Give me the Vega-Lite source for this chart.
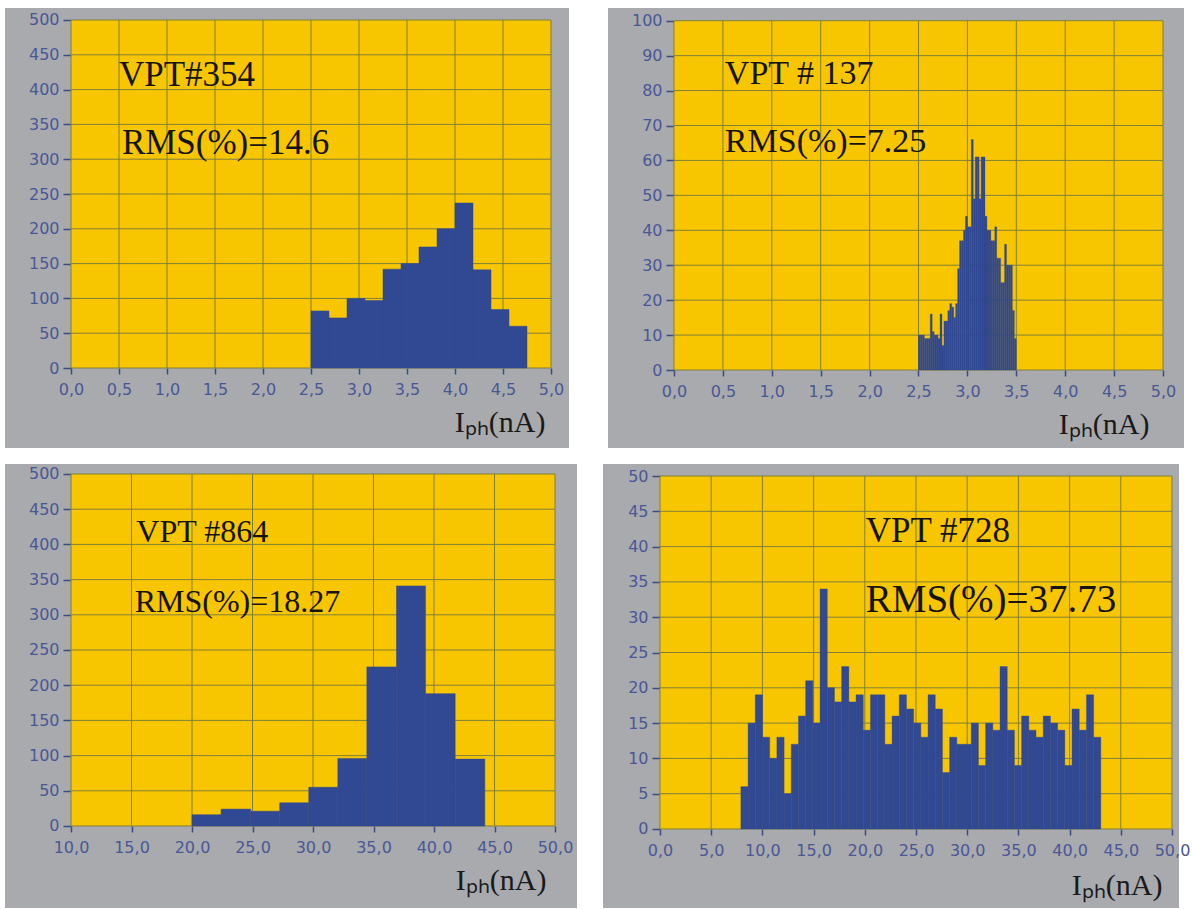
{
  "$schema": "https://vega.github.io/schema/vega-lite/v6.json",
  "background": "white",
  "padding": {"left": 5, "top": 8, "right": 0, "bottom": 0},
  "spacing": 16,
  "config": {
    "view": {"stroke": null},
    "axis": {
      "zindex": 1,
      "domain": false, "grid": false, "labelFlush": false, "labelOverlap": false,
      "labelFont": "DejaVu Sans", "labelFontSize": 16, "labelColor": "#4a5797",
      "tickColor": "#3d4a85", "tickWidth": 1.5,
      "titleFont": "Liberation Serif", "titleFontSize": 30, "titleFontWeight": "normal", "titleColor": "#1a1a1a"
    }
  },
  "vconcat": [
    {
      "spacing": 39,
      "hconcat": [
        {
          "width": 564, "height": 440,
          "view": {"fill": "#a8aaad", "stroke": null},
          "layer": [
            {
              "data": {"values": [{}]},
              "mark": {"type": "rect", "color": "#f8c600"},
              "encoding": {
                "x": {"datum": 0, "type": "quantitative", "scale": {"domain": [-0.6875, 5.1875], "nice": false, "zero": false},
                  "axis": {"values": [0, 0.5, 1, 1.5, 2, 2.5, 3, 3.5, 4, 4.5, 5], "offset": -80, "tickSize": 6, "labelPadding": 7,
                    "labelExpr": "replace(format(datum.value, '.1f'), '.', ',')",
                    "title": "Iₚₕ(nA)", "titleX": 540, "titleY": 63, "titleAlign": "right", "titleBaseline": "alphabetic", "titleAnchor": null}},
                "x2": {"datum": 5},
                "y": {"datum": 0, "type": "quantitative", "scale": {"domain": [-114.94, 517.24], "nice": false, "zero": false},
                  "axis": {"values": [0, 50, 100, 150, 200, 250, 300, 350, 400, 450, 500], "offset": -66, "tickSize": 8, "labelPadding": 4, "title": null}},
                "y2": {"datum": 500}
              }
            },
            {
              "data": {"values": [{"g": 0}, {"g": 0.5}, {"g": 1}, {"g": 1.5}, {"g": 2}, {"g": 2.5}, {"g": 3}, {"g": 3.5}, {"g": 4}, {"g": 4.5}, {"g": 5}]},
              "mark": {"type": "rule", "color": "#7f8038", "strokeWidth": 1},
              "encoding": {
                "x": {"field": "g", "type": "quantitative", "scale": {"domain": [-0.6875, 5.1875], "nice": false, "zero": false}},
                "y": {"datum": 0, "type": "quantitative", "scale": {"domain": [-114.94, 517.24], "nice": false, "zero": false}},
                "y2": {"datum": 500}
              }
            },
            {
              "data": {"values": [{"g": 0}, {"g": 50}, {"g": 100}, {"g": 150}, {"g": 200}, {"g": 250}, {"g": 300}, {"g": 350}, {"g": 400}, {"g": 450}, {"g": 500}]},
              "mark": {"type": "rule", "color": "#7f8038", "strokeWidth": 1},
              "encoding": {
                "y": {"field": "g", "type": "quantitative", "scale": {"domain": [-114.94, 517.24], "nice": false, "zero": false}},
                "x": {"datum": 0, "type": "quantitative", "scale": {"domain": [-0.6875, 5.1875], "nice": false, "zero": false}},
                "x2": {"datum": 5}
              }
            },
            {
              "data": {"values": [
                {"a": 2.5, "b": 2.6875, "n": 82}, {"a": 2.6875, "b": 2.875, "n": 72}, {"a": 2.875, "b": 3.0625, "n": 100},
                {"a": 3.0625, "b": 3.25, "n": 97}, {"a": 3.25, "b": 3.4375, "n": 142}, {"a": 3.4375, "b": 3.625, "n": 150},
                {"a": 3.625, "b": 3.8125, "n": 174}, {"a": 3.8125, "b": 4.0, "n": 200}, {"a": 4.0, "b": 4.1875, "n": 237},
                {"a": 4.1875, "b": 4.375, "n": 141}, {"a": 4.375, "b": 4.5625, "n": 84}, {"a": 4.5625, "b": 4.75, "n": 60}
              ]},
              "mark": {"type": "rect", "color": "#314892", "stroke": "#314892", "strokeWidth": 0.5},
              "encoding": {
                "x": {"field": "a", "type": "quantitative", "scale": {"domain": [-0.6875, 5.1875], "nice": false, "zero": false}},
                "x2": {"field": "b"},
                "y": {"field": "n", "type": "quantitative", "scale": {"domain": [-114.94, 517.24], "nice": false, "zero": false}},
                "y2": {"datum": 0}
              }
            },
            {
              "data": {"values": [{"t": "VPT#354", "x": 0.5, "y": 405}, {"t": "RMS(%)=14.6", "x": 0.53, "y": 307}]},
              "mark": {"type": "text", "align": "left", "baseline": "alphabetic", "font": "Liberation Serif", "fontSize": 35, "color": "#141414"},
              "encoding": {
                "x": {"field": "x", "type": "quantitative", "scale": {"domain": [-0.6875, 5.1875], "nice": false, "zero": false}},
                "y": {"field": "y", "type": "quantitative", "scale": {"domain": [-114.94, 517.24], "nice": false, "zero": false}},
                "text": {"field": "t"}
              }
            }
          ]
        },
        {
          "width": 576, "height": 440,
          "view": {"fill": "#a8aaad", "stroke": null},
          "layer": [
            {
              "data": {"values": [{}]},
              "mark": {"type": "rect", "color": "#f8c600"},
              "encoding": {
                "x": {"datum": 0, "type": "quantitative", "scale": {"domain": [-0.6748, 5.2147], "nice": false, "zero": false},
                  "axis": {"values": [0, 0.5, 1, 1.5, 2, 2.5, 3, 3.5, 4, 4.5, 5], "offset": -78, "tickSize": 6, "labelPadding": 7,
                    "labelExpr": "replace(format(datum.value, '.1f'), '.', ',')",
                    "title": "Iₚₕ(nA)", "titleX": 541, "titleY": 63, "titleAlign": "right", "titleBaseline": "alphabetic", "titleAnchor": null}},
                "x2": {"datum": 5},
                "y": {"datum": 0, "type": "quantitative", "scale": {"domain": [-22.33, 103.64], "nice": false, "zero": false},
                  "axis": {"values": [0, 10, 20, 30, 40, 50, 60, 70, 80, 90, 100], "offset": -66, "tickSize": 8, "labelPadding": 4, "title": null}},
                "y2": {"datum": 100}
              }
            },
            {
              "data": {"values": [{"g": 0}, {"g": 0.5}, {"g": 1}, {"g": 1.5}, {"g": 2}, {"g": 2.5}, {"g": 3}, {"g": 3.5}, {"g": 4}, {"g": 4.5}, {"g": 5}]},
              "mark": {"type": "rule", "color": "#7f8038", "strokeWidth": 1},
              "encoding": {
                "x": {"field": "g", "type": "quantitative", "scale": {"domain": [-0.6748, 5.2147], "nice": false, "zero": false}},
                "y": {"datum": 0, "type": "quantitative", "scale": {"domain": [-22.33, 103.64], "nice": false, "zero": false}},
                "y2": {"datum": 100}
              }
            },
            {
              "data": {"values": [{"g": 0}, {"g": 10}, {"g": 20}, {"g": 30}, {"g": 40}, {"g": 50}, {"g": 60}, {"g": 70}, {"g": 80}, {"g": 90}, {"g": 100}]},
              "mark": {"type": "rule", "color": "#7f8038", "strokeWidth": 1},
              "encoding": {
                "y": {"field": "g", "type": "quantitative", "scale": {"domain": [-22.33, 103.64], "nice": false, "zero": false}},
                "x": {"datum": 0, "type": "quantitative", "scale": {"domain": [-0.6748, 5.2147], "nice": false, "zero": false}},
                "x2": {"datum": 5}
              }
            },
            {
              "data": {"values": [
                {"a": 2.50, "b": 2.52, "n": 10}, {"a": 2.52, "b": 2.54, "n": 10}, {"a": 2.54, "b": 2.56, "n": 10}, {"a": 2.56, "b": 2.58, "n": 9},
                {"a": 2.58, "b": 2.60, "n": 9}, {"a": 2.60, "b": 2.62, "n": 9}, {"a": 2.62, "b": 2.64, "n": 16}, {"a": 2.64, "b": 2.66, "n": 11},
                {"a": 2.66, "b": 2.68, "n": 10}, {"a": 2.68, "b": 2.70, "n": 10}, {"a": 2.70, "b": 2.72, "n": 9}, {"a": 2.72, "b": 2.74, "n": 16},
                {"a": 2.74, "b": 2.76, "n": 7}, {"a": 2.76, "b": 2.78, "n": 14}, {"a": 2.78, "b": 2.80, "n": 14}, {"a": 2.80, "b": 2.82, "n": 17},
                {"a": 2.82, "b": 2.84, "n": 19}, {"a": 2.84, "b": 2.86, "n": 18}, {"a": 2.86, "b": 2.88, "n": 15}, {"a": 2.88, "b": 2.90, "n": 19},
                {"a": 2.90, "b": 2.92, "n": 29}, {"a": 2.92, "b": 2.94, "n": 37}, {"a": 2.94, "b": 2.96, "n": 37}, {"a": 2.96, "b": 2.98, "n": 40},
                {"a": 2.98, "b": 3.00, "n": 44}, {"a": 3.00, "b": 3.02, "n": 41}, {"a": 3.02, "b": 3.04, "n": 41}, {"a": 3.04, "b": 3.06, "n": 66},
                {"a": 3.06, "b": 3.08, "n": 49}, {"a": 3.08, "b": 3.10, "n": 61}, {"a": 3.10, "b": 3.12, "n": 61}, {"a": 3.12, "b": 3.14, "n": 49},
                {"a": 3.14, "b": 3.16, "n": 61}, {"a": 3.16, "b": 3.18, "n": 61}, {"a": 3.18, "b": 3.20, "n": 44}, {"a": 3.20, "b": 3.22, "n": 40},
                {"a": 3.22, "b": 3.24, "n": 40}, {"a": 3.24, "b": 3.26, "n": 37}, {"a": 3.26, "b": 3.28, "n": 37}, {"a": 3.28, "b": 3.30, "n": 41},
                {"a": 3.30, "b": 3.32, "n": 32}, {"a": 3.32, "b": 3.34, "n": 32}, {"a": 3.34, "b": 3.36, "n": 25}, {"a": 3.36, "b": 3.38, "n": 25},
                {"a": 3.38, "b": 3.40, "n": 36}, {"a": 3.40, "b": 3.42, "n": 30}, {"a": 3.42, "b": 3.44, "n": 30}, {"a": 3.44, "b": 3.46, "n": 30},
                {"a": 3.46, "b": 3.48, "n": 17}, {"a": 3.48, "b": 3.50, "n": 9}
              ]},
              "mark": {"type": "rect", "color": "#314892", "stroke": "#314892", "strokeWidth": 0.3},
              "encoding": {
                "x": {"field": "a", "type": "quantitative", "scale": {"domain": [-0.6748, 5.2147], "nice": false, "zero": false}},
                "x2": {"field": "b"},
                "y": {"field": "n", "type": "quantitative", "scale": {"domain": [-22.33, 103.64], "nice": false, "zero": false}},
                "y2": {"datum": 0}
              }
            },
            {
              "data": {"values": [{"t": "VPT # 137", "x": 0.52, "y": 81.9}, {"t": "RMS(%)=7.25", "x": 0.52, "y": 62.5}]},
              "mark": {"type": "text", "align": "left", "baseline": "alphabetic", "font": "Liberation Serif", "fontSize": 34, "color": "#141414"},
              "encoding": {
                "x": {"field": "x", "type": "quantitative", "scale": {"domain": [-0.6748, 5.2147], "nice": false, "zero": false}},
                "y": {"field": "y", "type": "quantitative", "scale": {"domain": [-22.33, 103.64], "nice": false, "zero": false}},
                "text": {"field": "t"}
              }
            }
          ]
        }
      ]
    },
    {
      "spacing": 26,
      "hconcat": [
        {
          "width": 572, "height": 444,
          "view": {"fill": "#a8aaad", "stroke": null},
          "layer": [
            {
              "data": {"values": [{}]},
              "mark": {"type": "rect", "color": "#f8c600"},
              "encoding": {
                "x": {"datum": 10, "type": "quantitative", "scale": {"domain": [4.545, 51.818], "nice": false, "zero": false},
                  "axis": {"values": [10, 15, 20, 25, 30, 35, 40, 45, 50], "offset": -82, "tickSize": 6, "labelPadding": 7,
                    "labelExpr": "replace(format(datum.value, '.1f'), '.', ',')",
                    "title": "Iₚₕ(nA)", "titleX": 541, "titleY": 63, "titleAlign": "right", "titleBaseline": "alphabetic", "titleAnchor": null}},
                "x2": {"datum": 50},
                "y": {"datum": 0, "type": "quantitative", "scale": {"domain": [-116.48, 514.2], "nice": false, "zero": false},
                  "axis": {"values": [0, 50, 100, 150, 200, 250, 300, 350, 400, 450, 500], "offset": -66, "tickSize": 8, "labelPadding": 4, "title": null}},
                "y2": {"datum": 500}
              }
            },
            {
              "data": {"values": [{"g": 10}, {"g": 15}, {"g": 20}, {"g": 25}, {"g": 30}, {"g": 35}, {"g": 40}, {"g": 45}, {"g": 50}]},
              "mark": {"type": "rule", "color": "#7f8038", "strokeWidth": 1},
              "encoding": {
                "x": {"field": "g", "type": "quantitative", "scale": {"domain": [4.545, 51.818], "nice": false, "zero": false}},
                "y": {"datum": 0, "type": "quantitative", "scale": {"domain": [-116.48, 514.2], "nice": false, "zero": false}},
                "y2": {"datum": 500}
              }
            },
            {
              "data": {"values": [{"g": 0}, {"g": 50}, {"g": 100}, {"g": 150}, {"g": 200}, {"g": 250}, {"g": 300}, {"g": 350}, {"g": 400}, {"g": 450}, {"g": 500}]},
              "mark": {"type": "rule", "color": "#7f8038", "strokeWidth": 1},
              "encoding": {
                "y": {"field": "g", "type": "quantitative", "scale": {"domain": [-116.48, 514.2], "nice": false, "zero": false}},
                "x": {"datum": 10, "type": "quantitative", "scale": {"domain": [4.545, 51.818], "nice": false, "zero": false}},
                "x2": {"datum": 50}
              }
            },
            {
              "data": {"values": [
                {"a": 20.0, "b": 22.4, "n": 16}, {"a": 22.4, "b": 24.85, "n": 24}, {"a": 24.85, "b": 27.25, "n": 21},
                {"a": 27.25, "b": 29.65, "n": 33}, {"a": 29.65, "b": 32.05, "n": 55}, {"a": 32.05, "b": 34.45, "n": 96},
                {"a": 34.45, "b": 36.9, "n": 226}, {"a": 36.9, "b": 39.3, "n": 341}, {"a": 39.3, "b": 41.75, "n": 188},
                {"a": 41.75, "b": 44.2, "n": 95}
              ]},
              "mark": {"type": "rect", "color": "#314892", "stroke": "#314892", "strokeWidth": 0.5},
              "encoding": {
                "x": {"field": "a", "type": "quantitative", "scale": {"domain": [4.545, 51.818], "nice": false, "zero": false}},
                "x2": {"field": "b"},
                "y": {"field": "n", "type": "quantitative", "scale": {"domain": [-116.48, 514.2], "nice": false, "zero": false}},
                "y2": {"datum": 0}
              }
            },
            {
              "data": {"values": [{"t": "VPT #864", "x": 15.4, "y": 403}, {"t": "RMS(%)=18.27", "x": 15.26, "y": 303.5}]},
              "mark": {"type": "text", "align": "left", "baseline": "alphabetic", "font": "Liberation Serif", "fontSize": 32, "color": "#141414"},
              "encoding": {
                "x": {"field": "x", "type": "quantitative", "scale": {"domain": [4.545, 51.818], "nice": false, "zero": false}},
                "y": {"field": "y", "type": "quantitative", "scale": {"domain": [-116.48, 514.2], "nice": false, "zero": false}},
                "text": {"field": "t"}
              }
            }
          ]
        },
        {
          "width": 576, "height": 444,
          "view": {"fill": "#a8aaad", "stroke": null},
          "layer": [
            {
              "data": {"values": [{}]},
              "mark": {"type": "rect", "color": "#f8c600"},
              "encoding": {
                "x": {"datum": 0, "type": "quantitative", "scale": {"domain": [-5.566, 50.684], "nice": false, "zero": false},
                  "axis": {"values": [0, 5, 10, 15, 20, 25, 30, 35, 40, 45, 50], "offset": -79, "tickSize": 6, "labelPadding": 7,
                    "labelExpr": "replace(format(datum.value, '.1f'), '.', ',')",
                    "title": "Iₚₕ(nA)", "titleX": 559, "titleY": 65, "titleAlign": "right", "titleBaseline": "alphabetic", "titleAnchor": null}},
                "x2": {"datum": 50},
                "y": {"datum": 0, "type": "quantitative", "scale": {"domain": [-11.19, 51.7], "nice": false, "zero": false},
                  "axis": {"values": [0, 5, 10, 15, 20, 25, 30, 35, 40, 45, 50], "offset": -57, "tickSize": 8, "labelPadding": 4, "title": null}},
                "y2": {"datum": 50}
              }
            },
            {
              "data": {"values": [{"g": 0}, {"g": 5}, {"g": 10}, {"g": 15}, {"g": 20}, {"g": 25}, {"g": 30}, {"g": 35}, {"g": 40}, {"g": 45}, {"g": 50}]},
              "mark": {"type": "rule", "color": "#7f8038", "strokeWidth": 1},
              "encoding": {
                "x": {"field": "g", "type": "quantitative", "scale": {"domain": [-5.566, 50.684], "nice": false, "zero": false}},
                "y": {"datum": 0, "type": "quantitative", "scale": {"domain": [-11.19, 51.7], "nice": false, "zero": false}},
                "y2": {"datum": 50}
              }
            },
            {
              "data": {"values": [{"g": 0}, {"g": 5}, {"g": 10}, {"g": 15}, {"g": 20}, {"g": 25}, {"g": 30}, {"g": 35}, {"g": 40}, {"g": 45}, {"g": 50}]},
              "mark": {"type": "rule", "color": "#7f8038", "strokeWidth": 1},
              "encoding": {
                "y": {"field": "g", "type": "quantitative", "scale": {"domain": [-11.19, 51.7], "nice": false, "zero": false}},
                "x": {"datum": 0, "type": "quantitative", "scale": {"domain": [-5.566, 50.684], "nice": false, "zero": false}},
                "x2": {"datum": 50}
              }
            },
            {
              "data": {"values": [
                {"a": 7.9, "b": 8.603, "n": 6}, {"a": 8.603, "b": 9.306, "n": 15}, {"a": 9.306, "b": 10.009, "n": 19}, {"a": 10.009, "b": 10.712, "n": 13},
                {"a": 10.712, "b": 11.415, "n": 10}, {"a": 11.415, "b": 12.118, "n": 13}, {"a": 12.118, "b": 12.821, "n": 5}, {"a": 12.821, "b": 13.524, "n": 12},
                {"a": 13.524, "b": 14.227, "n": 16}, {"a": 14.227, "b": 14.93, "n": 21}, {"a": 14.93, "b": 15.633, "n": 15}, {"a": 15.633, "b": 16.336, "n": 34},
                {"a": 16.336, "b": 17.039, "n": 20}, {"a": 17.039, "b": 17.742, "n": 18}, {"a": 17.742, "b": 18.445, "n": 23}, {"a": 18.445, "b": 19.148, "n": 18},
                {"a": 19.148, "b": 19.851, "n": 19}, {"a": 19.851, "b": 20.554, "n": 14}, {"a": 20.554, "b": 21.257, "n": 19}, {"a": 21.257, "b": 21.96, "n": 19},
                {"a": 21.96, "b": 22.663, "n": 12}, {"a": 22.663, "b": 23.366, "n": 16}, {"a": 23.366, "b": 24.069, "n": 19}, {"a": 24.069, "b": 24.772, "n": 17},
                {"a": 24.772, "b": 25.475, "n": 15}, {"a": 25.475, "b": 26.178, "n": 13}, {"a": 26.178, "b": 26.881, "n": 19}, {"a": 26.881, "b": 27.584, "n": 17},
                {"a": 27.584, "b": 28.287, "n": 8}, {"a": 28.287, "b": 28.99, "n": 13}, {"a": 28.99, "b": 29.693, "n": 12}, {"a": 29.693, "b": 30.396, "n": 12},
                {"a": 30.396, "b": 31.099, "n": 15}, {"a": 31.099, "b": 31.802, "n": 9}, {"a": 31.802, "b": 32.505, "n": 15}, {"a": 32.505, "b": 33.208, "n": 14},
                {"a": 33.208, "b": 33.911, "n": 23}, {"a": 33.911, "b": 34.614, "n": 14}, {"a": 34.614, "b": 35.317, "n": 9}, {"a": 35.317, "b": 36.02, "n": 16},
                {"a": 36.02, "b": 36.723, "n": 14}, {"a": 36.723, "b": 37.426, "n": 13}, {"a": 37.426, "b": 38.129, "n": 16}, {"a": 38.129, "b": 38.832, "n": 15},
                {"a": 38.832, "b": 39.535, "n": 14}, {"a": 39.535, "b": 40.238, "n": 9}, {"a": 40.238, "b": 40.941, "n": 17}, {"a": 40.941, "b": 41.644, "n": 14},
                {"a": 41.644, "b": 42.347, "n": 19}, {"a": 42.347, "b": 43.05, "n": 13}
              ]},
              "mark": {"type": "rect", "color": "#314892", "stroke": "#314892", "strokeWidth": 0.4},
              "encoding": {
                "x": {"field": "a", "type": "quantitative", "scale": {"domain": [-5.566, 50.684], "nice": false, "zero": false}},
                "x2": {"field": "b"},
                "y": {"field": "n", "type": "quantitative", "scale": {"domain": [-11.19, 51.7], "nice": false, "zero": false}},
                "y2": {"datum": 0}
              }
            },
            {
              "data": {"values": [{"t": "VPT #728", "x": 20.09, "y": 40.6}]},
              "mark": {"type": "text", "align": "left", "baseline": "alphabetic", "font": "Liberation Serif", "fontSize": 35, "color": "#141414"},
              "encoding": {
                "x": {"field": "x", "type": "quantitative", "scale": {"domain": [-5.566, 50.684], "nice": false, "zero": false}},
                "y": {"field": "y", "type": "quantitative", "scale": {"domain": [-11.19, 51.7], "nice": false, "zero": false}},
                "text": {"field": "t"}
              }
            },
            {
              "data": {"values": [{"t": "RMS(%)=37.73", "x": 20.09, "y": 30.8}]},
              "mark": {"type": "text", "align": "left", "baseline": "alphabetic", "font": "Liberation Serif", "fontSize": 39, "color": "#141414"},
              "encoding": {
                "x": {"field": "x", "type": "quantitative", "scale": {"domain": [-5.566, 50.684], "nice": false, "zero": false}},
                "y": {"field": "y", "type": "quantitative", "scale": {"domain": [-11.19, 51.7], "nice": false, "zero": false}},
                "text": {"field": "t"}
              }
            }
          ]
        }
      ]
    }
  ]
}
